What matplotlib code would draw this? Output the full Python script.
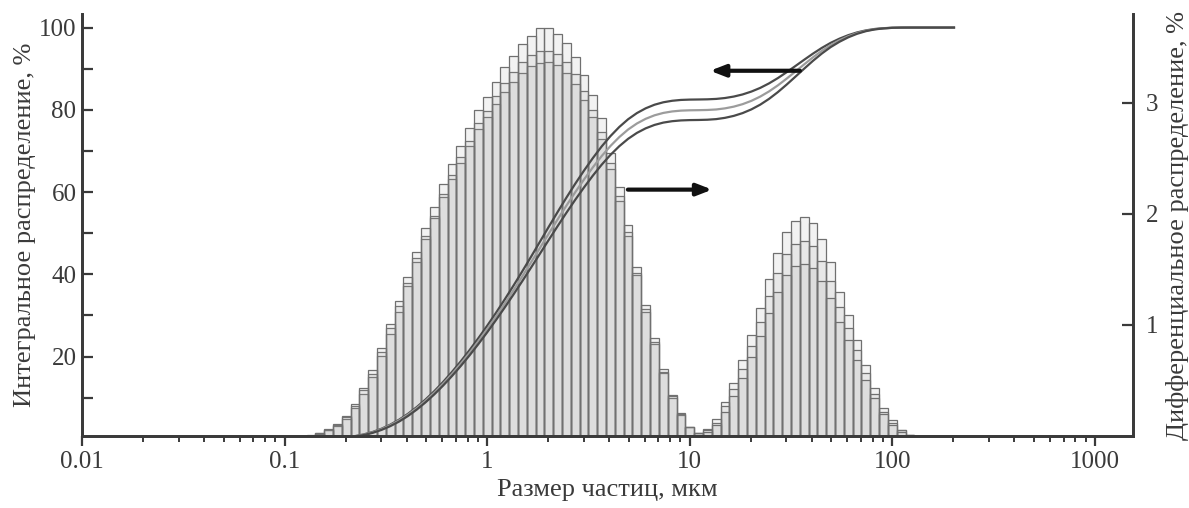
import numpy as np
import matplotlib
matplotlib.use("Agg")
import matplotlib.pyplot as plt
from matplotlib.ticker import LogLocator, NullFormatter, MultipleLocator

plt.rcParams['font.family'] = ['Liberation Serif', 'DejaVu Serif']

# bins: 23 per decade, bin k centred at 10**(k/23), k = -23 .. 53 (0.1 .. 200 um)
bins_per_decade = 23
k_index = np.arange(-23, 54)

# differential distribution, % per bin (three measurements)
diff_a = [0, 0, 0, 0.01,
          0.03, 0.06, 0.11, 0.18, 0.29, 0.43, 0.59, 0.79, 1.01, 1.22,
          1.43, 1.66, 1.87, 2.06, 2.27, 2.45, 2.61, 2.77, 2.94, 3.05,
          3.19, 3.32, 3.42, 3.53, 3.60, 3.67, 3.67, 3.62, 3.54, 3.41,
          3.25, 3.07, 2.86, 2.55, 2.24, 1.90, 1.52, 1.18, 0.88, 0.60,
          0.37, 0.21, 0.08, 0.03, 0.04, 0.10, 0.22, 0.36, 0.52, 0.71,
          0.90, 1.11, 1.30, 1.45, 1.53, 1.55, 1.51, 1.40, 1.24, 1.03,
          0.86, 0.68, 0.50, 0.34, 0.20, 0.10, 0.04, 0.01, 0, 0,
          0, 0, 0]
diff_b = [0, 0, 0, 0,
          0.03, 0.05, 0.10, 0.17, 0.27, 0.41, 0.56, 0.76, 0.97, 1.17,
          1.38, 1.60, 1.80, 1.98, 2.18, 2.35, 2.51, 2.66, 2.82, 2.93,
          3.06, 3.18, 3.28, 3.37, 3.43, 3.47, 3.47, 3.44, 3.37, 3.26,
          3.11, 2.94, 2.74, 2.46, 2.16, 1.84, 1.47, 1.14, 0.85, 0.58,
          0.36, 0.20, 0.08, 0.03, 0.05, 0.12, 0.27, 0.42, 0.60, 0.81,
          1.03, 1.26, 1.47, 1.64, 1.73, 1.76, 1.71, 1.58, 1.40, 1.16,
          0.97, 0.77, 0.57, 0.38, 0.22, 0.12, 0.05, 0.01, 0, 0,
          0, 0, 0]
diff_c = [0, 0, 0, 0,
          0.02, 0.05, 0.09, 0.15, 0.25, 0.38, 0.53, 0.72, 0.92, 1.12,
          1.35, 1.57, 1.77, 1.96, 2.15, 2.31, 2.46, 2.61, 2.76, 2.87,
          2.99, 3.10, 3.19, 3.27, 3.33, 3.36, 3.37, 3.34, 3.27, 3.17,
          3.03, 2.87, 2.67, 2.40, 2.12, 1.80, 1.45, 1.12, 0.83, 0.57,
          0.34, 0.19, 0.08, 0.03, 0.06, 0.15, 0.31, 0.48, 0.68, 0.91,
          1.15, 1.41, 1.65, 1.84, 1.94, 1.97, 1.92, 1.77, 1.57, 1.30,
          1.09, 0.86, 0.64, 0.43, 0.25, 0.14, 0.05, 0.01, 0, 0,
          0, 0, 0]

x_ticks = [0.01, 0.1, 1, 10, 100, 1000]
x_labels = ["0.01", "0.1", "1", "10", "100", "1000"]

edges = 10 ** ((np.append(k_index, k_index[-1] + 1) - 0.5) / bins_per_decade)
centers = 10 ** (k_index / bins_per_decade)

fig = plt.figure(figsize=(11.89, 5.08), dpi=100)
ax = fig.add_axes([82 / 1189, 1 - 436 / 508, (1133 - 82) / 1189, 422 / 508])
ax2 = ax.twinx()
ax.set_zorder(ax2.get_zorder() + 1)
ax.patch.set_visible(False)

# histograms on the right axis
for d in [diff_c, diff_b, diff_a]:
    ax2.bar(edges[:-1], d, width=np.diff(edges), align="edge",
            color="#9a9a9a", alpha=0.12, edgecolor="none")
    ax2.bar(edges[:-1], d, width=np.diff(edges), align="edge",
            fill=False, edgecolor="#707070", linewidth=0.9)

# integral curves from the same data
colors = ["#4a4a4a", "#9c9c9c", "#4a4a4a"]
for d, c in zip([diff_a, diff_b, diff_c], colors):
    d = np.array(d)
    cum = 100 * np.cumsum(d) / d.sum()
    ax.plot(np.append(edges[0], centers), np.append(0, cum), color=c, lw=1.6)

ax.set_xscale("log")
ax.set_xlim(0.01, 1542)
ax.set_ylim(0.7, 103.3)
ax2.set_ylim(0, 3.8)

ax.set_xticks(x_ticks, labels=x_labels)
ax.xaxis.set_minor_locator(LogLocator(base=10, subs=np.arange(2, 10)))
ax.xaxis.set_minor_formatter(NullFormatter())
ax.set_yticks([20, 40, 60, 80, 100])
ax.yaxis.set_minor_locator(MultipleLocator(10))
ax2.set_yticks([1, 2, 3])

tc = "#3a3a3a"
ax.tick_params(axis="x", which="major", direction="out", length=7, width=1.6,
               color=tc, labelsize=18, labelcolor=tc, pad=4)
ax.tick_params(axis="x", which="minor", direction="out", length=4, width=1.4, color=tc)
ax.tick_params(axis="y", which="both", direction="in", length=8, width=1.6,
               color=tc, labelsize=18, labelcolor=tc, pad=4)
ax2.tick_params(axis="y", direction="in", length=8, width=1.6,
                color=tc, labelsize=18, labelcolor=tc, pad=9)

for a in [ax, ax2]:
    a.spines["top"].set_visible(False)
    for s in ["left", "right", "bottom"]:
        a.spines[s].set_color(tc)
        a.spines[s].set_linewidth(2)

ax.set_xlabel("Размер частиц, мкм", fontsize=19, color=tc, labelpad=4)
ax.set_ylabel("Интегральное распределение, %", fontsize=19, color=tc, labelpad=2)
ax2.set_ylabel("Дифференциальное распределение, %", fontsize=19, color=tc, labelpad=6)

# arrows pointing to the axes each curve belongs to
ax.annotate("", xy=(12.6, 89.5), xytext=(35, 89.5),
            arrowprops=dict(arrowstyle="-|>,head_length=0.9,head_width=0.35",
                            color="#111111", lw=3, shrinkA=0, shrinkB=0))
ax.annotate("", xy=(12.9, 60.6), xytext=(4.95, 60.6),
            arrowprops=dict(arrowstyle="-|>,head_length=0.9,head_width=0.35",
                            color="#111111", lw=3, shrinkA=0, shrinkB=0))

fig.savefig("out.png", dpi=100)
